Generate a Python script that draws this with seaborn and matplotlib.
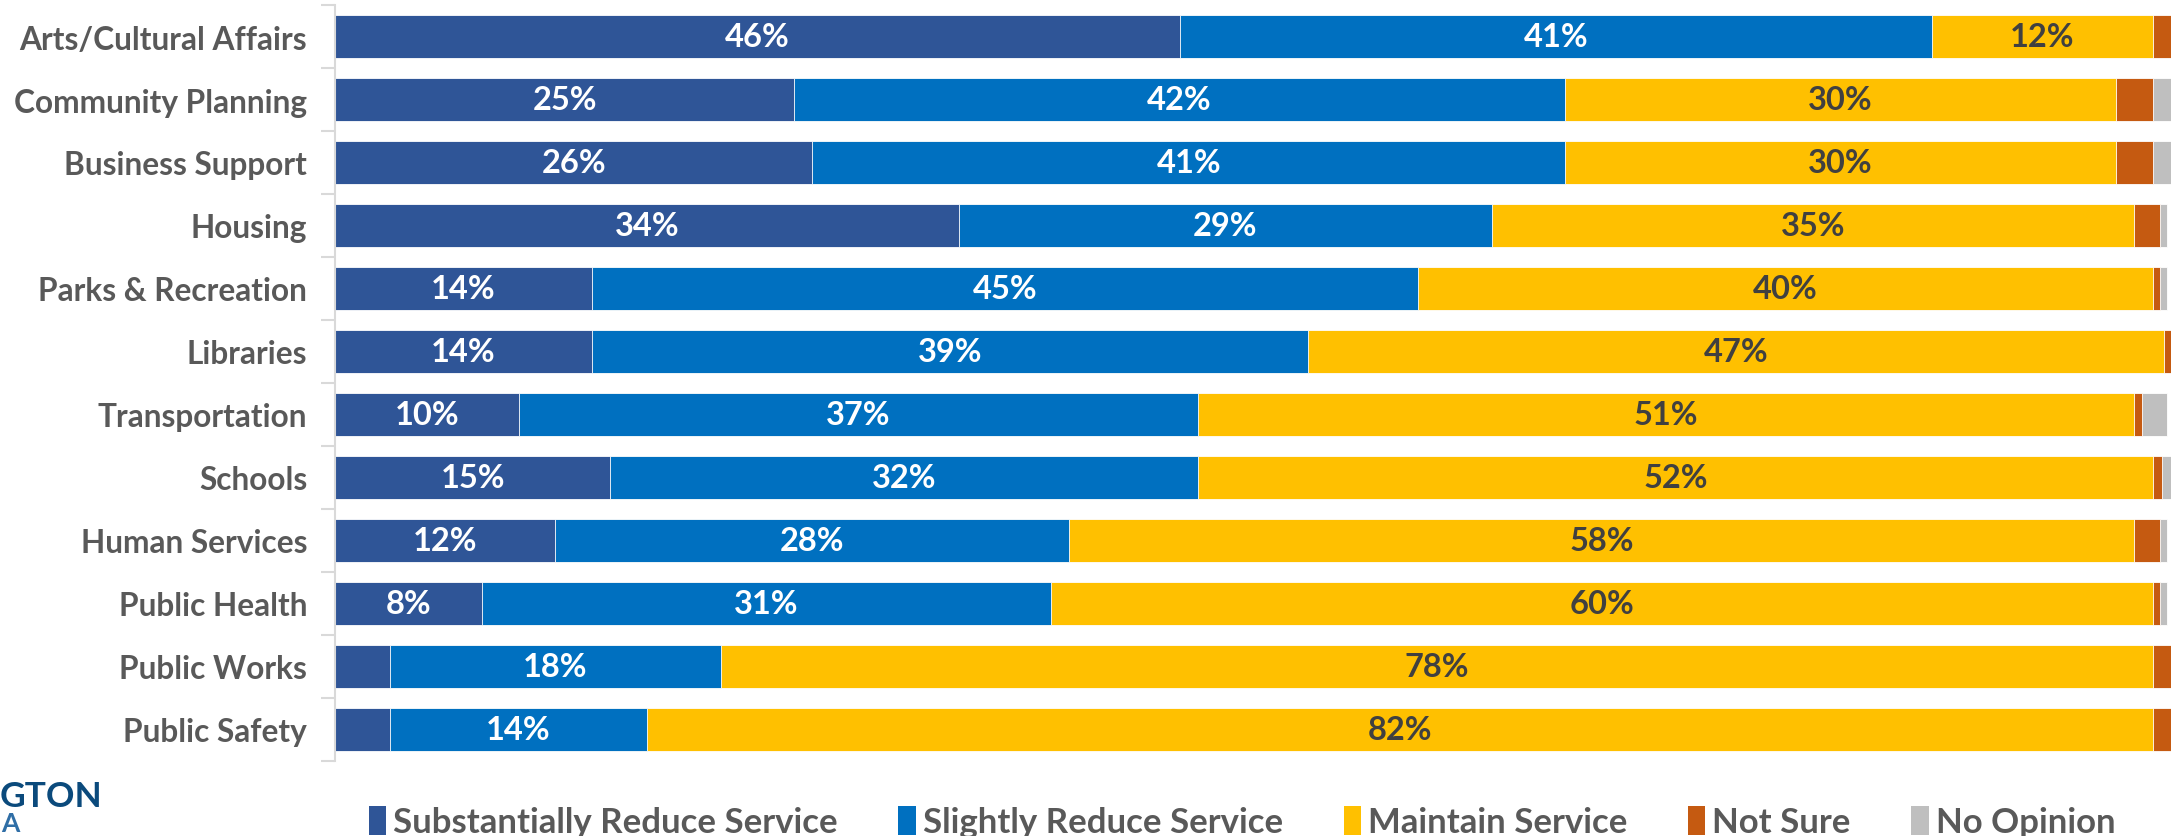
import matplotlib
matplotlib.use("Agg")
import matplotlib.pyplot as plt
import seaborn as sns
import pandas as pd
import numpy as np
from matplotlib.patches import Patch

categories = ["Arts/Cultural Affairs", "Community Planning", "Business Support", "Housing",
              "Parks & Recreation", "Libraries", "Transportation", "Schools",
              "Human Services", "Public Health", "Public Works", "Public Safety"]
series_names = ["Substantially Reduce Service", "Slightly Reduce Service",
                "Maintain Service", "Not Sure", "No Opinion"]
substantially = [46, 25, 26, 34, 14, 14, 10, 15, 12, 8, 3, 3]
slightly = [41, 42, 41, 29, 45, 39, 37, 32, 28, 31, 18, 14]
maintain = [12, 30, 30, 35, 40, 46.6, 51, 52, 58, 60, 78, 82]
not_sure = [1, 2, 2, 1.4, 0.4, 0.4, 0.4, 0.5, 1.4, 0.4, 1, 1]
no_opinion = [0, 1, 1, 0.4, 0.4, 0, 1.4, 0.5, 0.4, 0.4, 0, 0]

colors = ["#2F5597", "#0070C0", "#FFC000", "#C55A11", "#BFBFBF"]
label_colors = ["white", "white", "#404040", None, None]

FONT = "Lato"
sns.set_style("white")
plt.rcParams["font.family"] = [FONT, "DejaVu Sans"]

series = [substantially, slightly, maintain, not_sure, no_opinion]
df = pd.DataFrame({name: vals for name, vals in zip(series_names, series)})
df.insert(0, "category", categories)
cum = df[series_names].cumsum(axis=1)
left = cum - df[series_names]

fig = plt.figure(figsize=(21.79, 8.37), dpi=100)
ax = fig.add_axes([335 / 2179, 1 - 762 / 837, 1836 / 2179, 756 / 837])

for i in reversed(range(len(series_names))):
    sns.barplot(x=cum[series_names[i]].values, y=df["category"], color=colors[i],
                orient="h", width=0.67, saturation=1, ax=ax,
                edgecolor="white", linewidth=0.6)

for i in range(3):
    name = series_names[i]
    for j, cat in enumerate(categories):
        v = df[name].iloc[j]
        if v >= 5:
            ax.text(left[name].iloc[j] + v / 2, j, f"{v:.0f}%", ha="center", va="center",
                    color=label_colors[i], fontsize=23.5, fontweight="bold")

ax.set_xlim(0, 100)
ax.set_ylim(len(categories) - 0.5, -0.5)
ax.set_xlabel("")
ax.set_ylabel("")
ax.set_xticks([])
for s in ["top", "right", "bottom"]:
    ax.spines[s].set_visible(False)
ax.spines["left"].set_color("#D9D9D9")
ax.spines["left"].set_linewidth(1.5)
ax.set_yticks(np.arange(-0.5, len(categories), 1.0), minor=True)
ax.tick_params(axis="y", which="minor", length=10, width=1.5, color="#D9D9D9", direction="out", left=True)
ax.tick_params(axis="y", which="major", length=0, pad=20, labelsize=22.8, labelcolor="#595959")
for lab in ax.get_yticklabels():
    lab.set_fontweight("bold")

handles = [Patch(facecolor=c, edgecolor="none") for c in colors]
leg = fig.legend(handles, series_names, loc="center", bbox_to_anchor=(1242 / 2179, 1 - 823 / 837),
                 ncol=5, frameon=False, handlelength=0.5, handleheight=0.9, handletextpad=0.2,
                 columnspacing=1.75, prop={"size": 25, "weight": "bold"})
for t in leg.get_texts():
    t.set_color("#595959")

fig.text(0, 1 - 807 / 837, "GTON", ha="left", va="baseline", fontsize=25.5,
         fontweight="bold", color="#0B4A7C")
fig.text(0.0005, 0.001, "A", ha="left", va="bottom", fontsize=19,
         fontweight="bold", color="#2F6EA6")

fig.savefig("out.png", dpi=100)
